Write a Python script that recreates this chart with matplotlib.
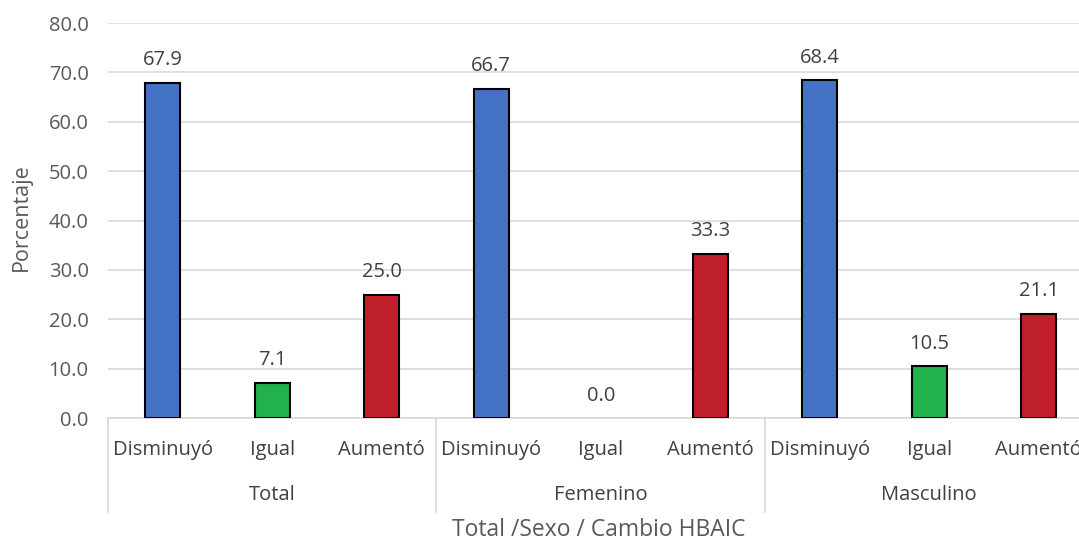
import numpy as np
import matplotlib.pyplot as plt

# datos
grupos = ['Total', 'Femenino', 'Masculino']
cambios = ['Disminuyó', 'Igual', 'Aumentó']
valores = [67.9, 7.1, 25.0, 66.7, 0.0, 33.3, 68.4, 10.5, 21.1]
colores_cambio = ['#4472C4', '#22B14C', '#C0202A']

gris = '#595959'
plt.rcParams['font.family'] = ['Open Sans', 'DejaVu Sans']

fig = plt.figure(figsize=(10.79, 5.43), dpi=100)
ax = fig.add_axes([0.1001, 0.2302, 0.9133, 0.7274])

x = np.arange(len(valores))
colores = [colores_cambio[i % 3] for i in range(len(valores))]
bordes = [1.5 if v > 0 else 0 for v in valores]
ax.bar(x, valores, width=0.32, color=colores, edgecolor='black', linewidth=bordes, zorder=3)

for xi, v in zip(x, valores):
    ax.annotate('{:.1f}'.format(v), (xi, v), xytext=(0, 9), textcoords='offset points',
                ha='center', va='bottom', fontsize=14.5, color='#404040')

ax.set_xlim(-0.5, len(valores) - 0.5)
ax.set_ylim(0, 80)
ax.set_yticks(np.arange(0, 81, 10))
ax.set_yticklabels(['{:.1f}'.format(t) for t in np.arange(0, 81, 10)], fontsize=14.5, color=gris)
ax.tick_params(axis='y', length=0, pad=14)
ax.set_xticks([])
ax.grid(axis='y', color='#d9d9d9', linewidth=1.2, zorder=0)
for s in ['left', 'right', 'top']:
    ax.spines[s].set_visible(False)
ax.spines['bottom'].set_color('#d9d9d9')
ax.spines['bottom'].set_linewidth(1.2)

# etiquetas multinivel
tr = ax.get_xaxis_transform()
for xi in x:
    ax.text(xi, -0.081, cambios[xi % 3], transform=tr, ha='center', va='center',
            fontsize=14.5, color='#404040', clip_on=False)
for g, nombre in enumerate(grupos):
    ax.text(3 * g + 1, -0.195, nombre, transform=tr, ha='center', va='center',
            fontsize=14.5, color='#404040', clip_on=False)
for g in range(len(grupos) + 1):
    ax.plot([3 * g - 0.5, 3 * g - 0.5], [0, -0.238], transform=tr, color='#d9d9d9',
            linewidth=1.2, clip_on=False)

fig.text(0.555, 0.024, 'Total /Sexo / Cambio HBAIC', ha='center', va='center', fontsize=16.5, color=gris)
fig.text(0.02, 0.6, 'Porcentaje', rotation=90, ha='center', va='center', fontsize=15.5, color=gris)

plt.savefig('out.png', dpi=100)
